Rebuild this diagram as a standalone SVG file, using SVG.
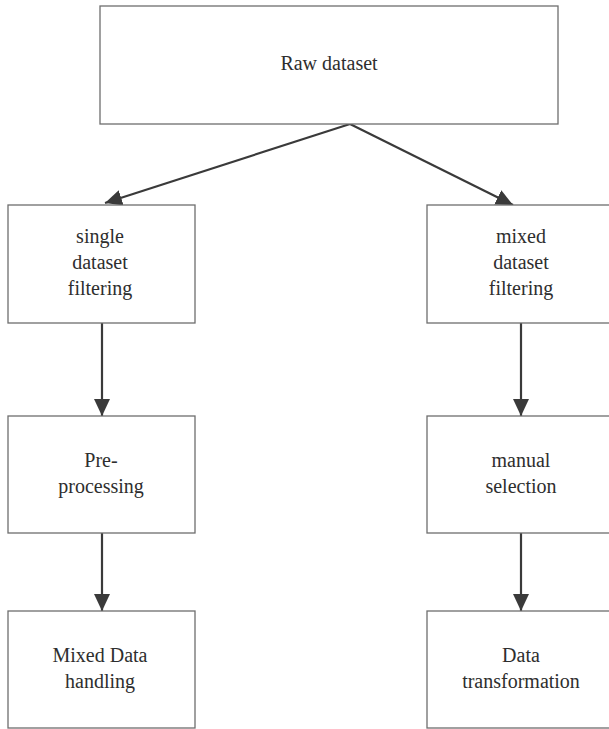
<svg xmlns="http://www.w3.org/2000/svg" width="609" height="729" viewBox="0 0 609 729">
<defs>
<style>
.box{fill:#fff;stroke:#6e6e6e;stroke-width:1.3}
.lbl{font-family:'Liberation Serif','DejaVu Serif',serif;font-size:20px;fill:#2e2e2e;text-anchor:middle}
.edge{stroke:#3a3a3a;stroke-width:2.2;fill:none;marker-end:url(#ah)}
</style>
<marker id="ah" markerUnits="userSpaceOnUse" markerWidth="18" markerHeight="18" viewBox="0 0 18 18" refX="17" refY="9" orient="auto">
<path d="M0,1 L17,9 L0,17 Z" fill="#3a3a3a"/>
</marker>
</defs>
<rect width="609" height="729" fill="#fff"/>
<g id="connectors">
<line class="edge" x1="350" y1="124" x2="105" y2="203"/>
<line class="edge" x1="350" y1="124" x2="513" y2="205"/>
<line class="edge" x1="102" y1="323" x2="102" y2="416"/>
<line class="edge" x1="521" y1="323" x2="521" y2="416"/>
<line class="edge" x1="102" y1="533" x2="102" y2="611"/>
<line class="edge" x1="521" y1="533" x2="521" y2="611"/>
</g>
<g id="raw">
<rect class="box" x="100" y="6" width="458" height="118"/>
<text class="lbl" x="329" y="70" font-family="Liberation Serif">Raw dataset</text>
</g>
<g id="single">
<rect class="box" x="8" y="205" width="187" height="118"/>
<text class="lbl" x="100" y="243">single</text>
<text class="lbl" x="100" y="269">dataset</text>
<text class="lbl" x="100" y="295">filtering</text>
</g>
<g id="mixed">
<rect class="box" x="427" y="205" width="188" height="118"/>
<text class="lbl" x="521" y="243">mixed</text>
<text class="lbl" x="521" y="269">dataset</text>
<text class="lbl" x="521" y="295">filtering</text>
</g>
<g id="pre">
<rect class="box" x="8" y="416" width="187" height="117"/>
<text class="lbl" x="101" y="467">Pre-</text>
<text class="lbl" x="101" y="493">processing</text>
</g>
<g id="manual">
<rect class="box" x="427" y="416" width="188" height="117"/>
<text class="lbl" x="521" y="467">manual</text>
<text class="lbl" x="521" y="493">selection</text>
</g>
<g id="mixeddata">
<rect class="box" x="8" y="611" width="187" height="117"/>
<text class="lbl" x="100" y="662">Mixed Data</text>
<text class="lbl" x="100" y="688">handling</text>
</g>
<g id="transform">
<rect class="box" x="427" y="611" width="188" height="117"/>
<text class="lbl" x="521" y="662">Data</text>
<text class="lbl" x="521" y="688">transformation</text>
</g>
</svg>
